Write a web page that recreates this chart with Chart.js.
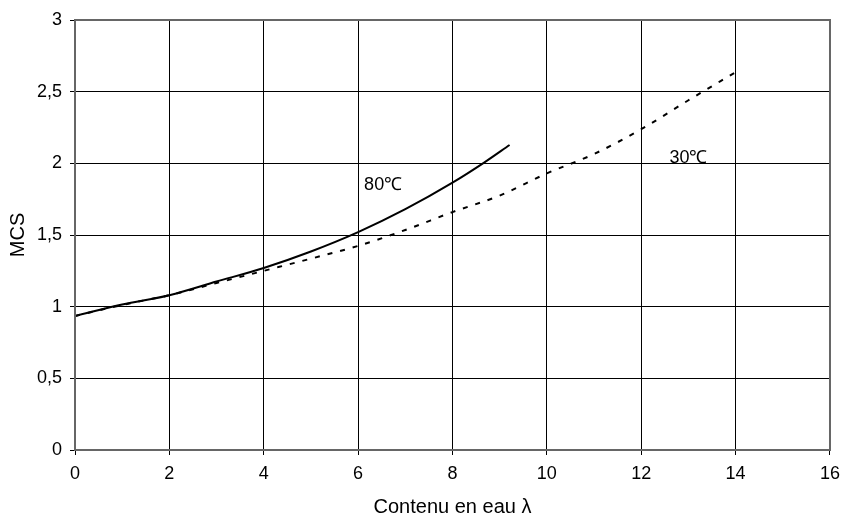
<!DOCTYPE html>
<html>
<head>
<meta charset="utf-8">
<script src="https://cdn.jsdelivr.net/npm/chart.js@4.4.0/dist/chart.umd.min.js"></script>
<style>
  html, body { margin: 0; padding: 0; background: #fff; }
  #wrap { width: 848px; height: 519px; }
</style>
</head>
<body>
<div id="wrap"><canvas id="chart" width="848" height="519"></canvas></div>
<script>
// données
const xTicks = [0, 2, 4, 6, 8, 10, 12, 14, 16];
const yTicks = [0, 0.5, 1, 1.5, 2, 2.5, 3];

const x80 = [0, 1, 2, 3, 4, 5, 6, 7, 8, 8.67, 9.21];
const y80 = [0.935, 1.015, 1.08, 1.175, 1.27, 1.385, 1.52, 1.68, 1.865, 2.005, 2.128];

const x30 = [0, 1, 2, 3, 4, 5, 6, 7, 8, 9, 10, 11, 12, 13, 14];
const y30 = [0.935, 1.012, 1.08, 1.165, 1.25, 1.335, 1.424, 1.535, 1.66, 1.775, 1.93, 2.065, 2.238, 2.44, 2.636];

const curveLabels = [
  { text: "80\u2103", x: 6.53, y: 1.85 },
  { text: "30\u2103", x: 13.0, y: 2.04 }
];

const FONT = "'Liberation Sans', Arial, sans-serif";

function toPoints(xs, ys) {
  return xs.map((x, i) => ({ x: x, y: ys[i] }));
}

// étiquettes des courbes + cadre gris
const extras = {
  id: "extras",
  afterDatasetsDraw(chart) {
    const { ctx, chartArea: a, scales } = chart;
    ctx.save();
    ctx.strokeStyle = "#666";
    ctx.lineWidth = 2;
    ctx.strokeRect(a.left, a.top, a.right - a.left, a.bottom - a.top);
    ctx.fillStyle = "#000";
    ctx.font = "18px " + FONT;
    ctx.textAlign = "center";
    ctx.textBaseline = "middle";
    curveLabels.forEach(l => {
      ctx.fillText(l.text, scales.x.getPixelForValue(l.x), scales.y.getPixelForValue(l.y));
    });
    ctx.restore();
  }
};

new Chart(document.getElementById("chart"), {
  type: "scatter",
  data: {
    datasets: [
      {
        label: "80\u2103",
        data: toPoints(x80, y80),
        showLine: true,
        borderColor: "#000",
        borderWidth: 2,
        pointRadius: 0,
        cubicInterpolationMode: "monotone"
      },
      {
        label: "30\u2103",
        data: toPoints(x30, y30),
        showLine: true,
        borderColor: "#000",
        borderWidth: 2,
        borderDash: [5, 8],
        pointRadius: 0,
        cubicInterpolationMode: "monotone"
      }
    ]
  },
  options: {
    responsive: false,
    animation: false,
    layout: { padding: { top: 20, right: 12, left: 0, bottom: 0 } },
    plugins: { legend: { display: false }, tooltip: { enabled: false } },
    scales: {
      x: {
        type: "linear",
        min: 0,
        max: 16,
        afterBuildTicks: s => { s.ticks = xTicks.map(v => ({ value: v })); },
        afterFit: s => { s.height = 69; },
        ticks: { color: "#000", font: { family: FONT, size: 18 }, padding: 8, maxRotation: 0 },
        grid: { color: "#000", lineWidth: 1, tickLength: 5, tickColor: "#000" },
        border: { display: false },
        title: { display: true, text: "Contenu en eau \u03bb", color: "#000", font: { family: FONT, size: 20 }, padding: { top: 4, bottom: 0 } }
      },
      y: {
        type: "linear",
        min: 0,
        max: 3,
        afterBuildTicks: s => { s.ticks = yTicks.map(v => ({ value: v })); },
        afterFit: s => { s.width = 75; },
        ticks: {
          color: "#000",
          font: { family: FONT, size: 18 },
          padding: 8,
          callback: v => String(v).replace(".", ",")
        },
        grid: { color: "#000", lineWidth: 1, tickLength: 5, tickColor: "#000" },
        border: { display: false },
        title: { display: true, text: "MCS", color: "#000", font: { family: FONT, size: 20 }, padding: { top: 6, bottom: 2 } }
      }
    }
  },
  plugins: [extras]
});
</script>
</body>
</html>
